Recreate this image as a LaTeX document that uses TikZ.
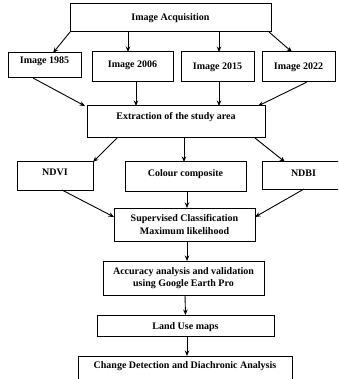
\documentclass[tikz,border=0pt]{standalone}
\usepackage{fontspec}
\setmainfont{Liberation Serif}
\usetikzlibrary{arrows.meta}
\newcommand{\liftt}[2]{\raisebox{#1}[\height][\depth]{#2}}
\begin{document}
\begin{tikzpicture}[x=1pt,y=-1pt,
  box/.style={draw,line width=1pt,inner sep=0pt,outer sep=0pt,font=\bfseries\fontsize{10}{12.5}\selectfont,text height=7pt,text depth=2pt},
  box2/.style={draw,line width=1pt,inner sep=0pt,outer sep=0pt,font=\bfseries\fontsize{10}{12.5}\selectfont,align=center},
  arr/.style={line width=0.9pt,-{Stealth[length=5.5pt,width=4.5pt]}}]
\useasboundingbox (0,0) rectangle (338,379);
\clip (0,0) rectangle (338,379);
\node[box,minimum width=201pt,minimum height=28pt] (acq) at (170.5,18) {Image Acquisition};
\node[box,minimum width=73pt,minimum height=25pt] (i85) at (44.5,65.5) {\liftt{4pt}{Image 1985}};
\node[box,minimum width=81pt,minimum height=30pt] (i06) at (132.5,67) {\liftt{1.5pt}{Image 2006}};
\node[box,minimum width=73pt,minimum height=30pt] (i15) at (217.5,67) {Image 2015};
\node[box,minimum width=73pt,minimum height=30pt] (i22) at (298.5,67) {Image 2022};
\node[box,minimum width=178pt,minimum height=32pt] (ext) at (176,122) {\liftt{5pt}{Extraction of the study area}};
\node[box,minimum width=76pt,minimum height=28pt] (ndvi) at (55,176) {\liftt{3pt}{NDVI}};
\node[box,minimum width=121pt,minimum height=29pt] (col) at (185.5,176.5) {\liftt{3pt}{Colour composite}};
\node[box,minimum width=83pt,minimum height=27pt] (ndbi) at (303.5,175.5) {\liftt{1.5pt}{NDBI}};
\node[box2,minimum width=141pt,minimum height=33pt] (sup) at (184.5,224.5) {Supervised Classification\\Maximum likelihood};
\node[box2,minimum width=161pt,minimum height=34pt] (acc) at (183.5,278) {Accuracy analysis and validation\\using Google Earth Pro};
\node[box,minimum width=177pt,minimum height=21pt] (land) at (185.5,325.5) {\liftt{-1.5pt}{Land Use maps}};
\node[box,minimum width=214pt,minimum height=34pt] (chg) at (185,373) {\liftt{7pt}{Change Detection and Diachronic Analysis}};
% acquisition to images
\draw[arr] (acq.south west) -- ([xshift=8.5pt]i85.north);
\draw[arr] ([xshift=-42.5pt]acq.south) -- ([xshift=-4.5pt]i06.north);
\draw[arr] ([xshift=48.5pt]acq.south) -- ([xshift=1.5pt]i15.north);
\draw[arr] ([xshift=-2pt]acq.south east) -- ([xshift=-6.5pt]i22.north);
% images to extraction
\draw[arr] ([xshift=-11.5pt]i85.south) -- ([xshift=-2pt]ext.north west);
\draw[arr] ([xshift=3.5pt]i06.south) -- ([xshift=-40pt]ext.north);
\draw[arr] ([xshift=1.5pt]i15.south) -- ([xshift=43pt]ext.north);
\draw[arr] ([xshift=8.5pt]i22.south) -- ([xshift=-7pt]ext.north east);
% extraction to indices
\draw[arr] ([xshift=-59pt]ext.south) -- (ndvi.north east);
\draw[arr] ([xshift=8pt]ext.south) -- ([xshift=-1.5pt]col.north);
\draw[arr] ([xshift=79pt]ext.south) -- ([xshift=-18.5pt]ndbi.north);
% indices to classification
\draw[arr] ([xshift=7pt]ndvi.south) -- ([yshift=7.5pt]sup.west);
\draw[arr] ([xshift=1.5pt]col.south) -- ([xshift=2.5pt]sup.north);
\draw[arr] ([xshift=0.5pt]ndbi.south) -- ([yshift=7.5pt]sup.east);
% chain
\draw[arr] ([xshift=2.5pt]sup.south) -- ([xshift=3.5pt]acc.north);
\draw[arr] ([xshift=1.5pt]acc.south) -- (land.north);
\draw[arr] ([xshift=1.5pt]land.south) -- ([xshift=2pt]chg.north);
\end{tikzpicture}
\end{document}
